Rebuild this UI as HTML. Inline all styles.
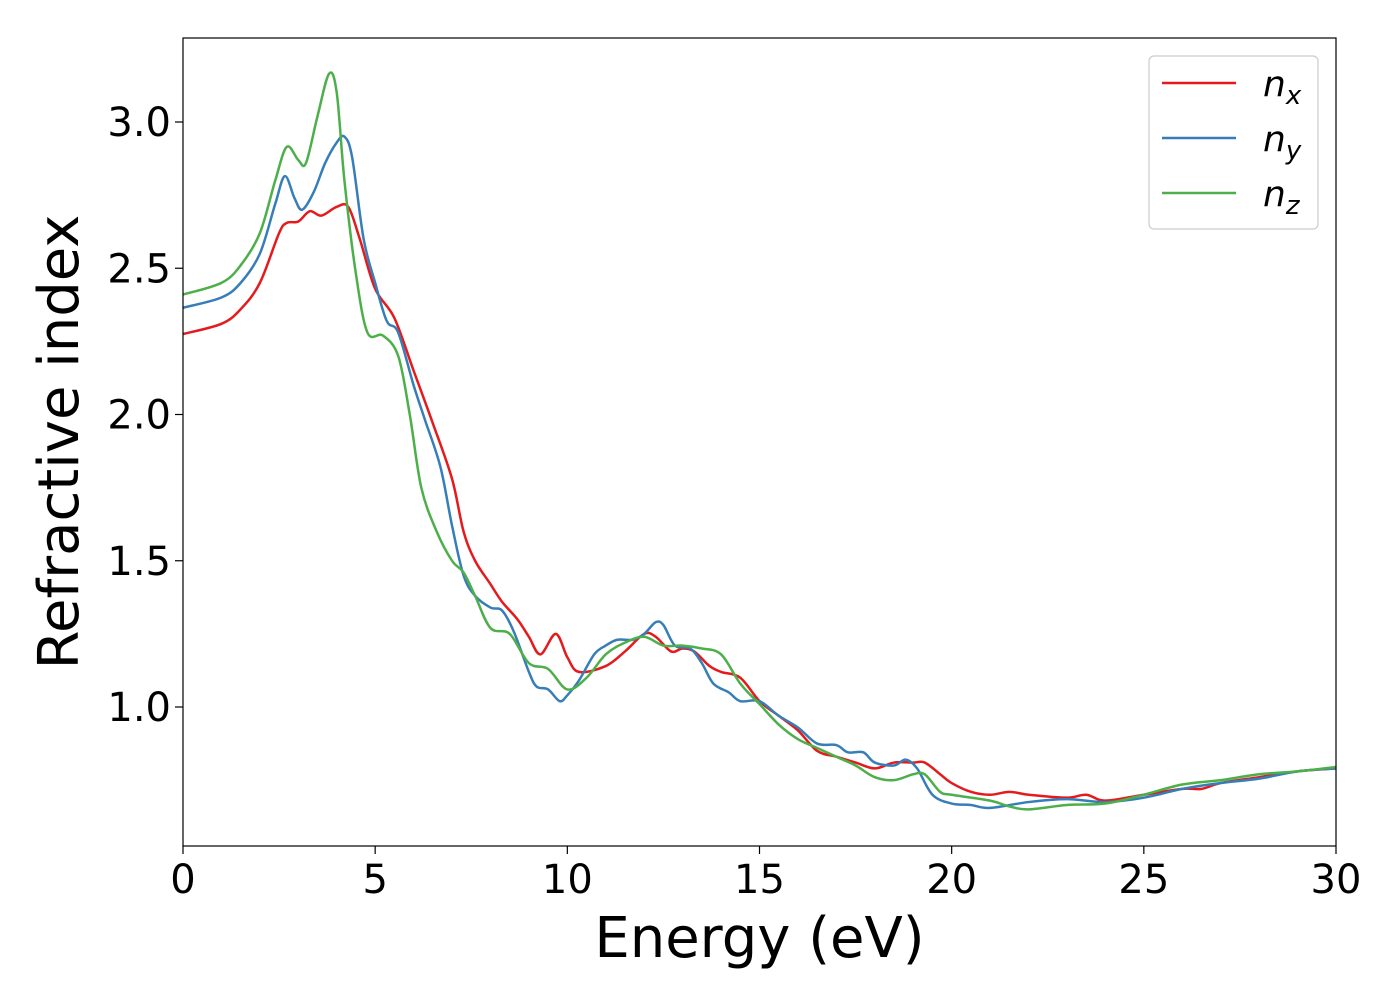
<!DOCTYPE html>
<html><head><meta charset="utf-8"><style>
body{margin:0;background:#fff;}
svg text{font-family:"DejaVu Sans","Liberation Sans",sans-serif;}
</style></head><body>
<svg id="chart" width="1400" height="1000" xmlns="http://www.w3.org/2000/svg">
<rect width="1400" height="1000" fill="#fff"/>
<g id="plot"></g>
</svg>
<script>
const xTicks=[0,5,10,15,20,25,30];
const yTicks=[1.0,1.5,2.0,2.5,3.0];
const yTickLabels=["1.0","1.5","2.0","2.5","3.0"];
const nxE=[0,1,1.5,2,2.5,2.7,3,3.3,3.6,4,4.3,4.6,5,5.5,6,6.5,7,7.3,7.6,8,8.3,8.7,9,9.3,9.7,10,10.3,11,11.5,12,12.3,12.7,13,13.3,13.7,14,14.5,15,15.5,16,16.5,17,17.5,18,18.5,19,19.3,19.7,20,20.5,21,21.5,22,23,23.5,24,25,26,26.5,27,28,29,30];
const nxV=[2.275,2.31,2.36,2.45,2.62,2.655,2.66,2.695,2.68,2.71,2.71,2.6,2.43,2.33,2.15,1.97,1.78,1.6,1.5,1.42,1.36,1.3,1.24,1.18,1.25,1.17,1.12,1.14,1.19,1.25,1.24,1.19,1.2,1.19,1.14,1.12,1.1,1.02,0.97,0.92,0.85,0.83,0.81,0.79,0.81,0.81,0.81,0.77,0.74,0.71,0.7,0.71,0.7,0.69,0.7,0.68,0.7,0.72,0.72,0.74,0.76,0.78,0.79];
const nyE=[0,1,1.5,2,2.4,2.65,2.9,3.1,3.4,3.7,4,4.2,4.4,4.7,5,5.3,5.6,6,6.3,6.7,7,7.3,7.6,8,8.3,8.6,9,9.2,9.5,9.8,10,10.3,10.7,11,11.3,11.7,12,12.3,12.5,12.8,13.2,13.5,13.8,14.2,14.5,15,15.5,16,16.5,17,17.3,17.7,18,18.5,18.8,19.1,19.5,20,20.5,21,22,23,24,25,26,27,28,29,30];
const nyV=[2.365,2.4,2.45,2.55,2.72,2.815,2.74,2.7,2.76,2.86,2.93,2.95,2.88,2.6,2.45,2.32,2.28,2.1,1.98,1.82,1.62,1.45,1.38,1.34,1.33,1.26,1.12,1.07,1.06,1.02,1.04,1.09,1.18,1.21,1.23,1.23,1.25,1.29,1.28,1.21,1.2,1.15,1.08,1.05,1.02,1.02,0.97,0.93,0.875,0.87,0.845,0.845,0.81,0.8,0.82,0.79,0.7,0.67,0.665,0.655,0.675,0.685,0.675,0.69,0.72,0.74,0.755,0.78,0.79];
const nzE=[0,1,1.5,2,2.4,2.7,3,3.2,3.5,3.8,4,4.2,4.5,4.8,5.2,5.6,5.9,6.2,6.6,7,7.3,7.6,8,8.5,9,9.5,10,10.5,11,11.5,12,12.5,13,13.5,14,14.5,15,15.5,16,16.5,17,17.5,18,18.5,19,19.3,19.7,20,21,21.5,22,23,24,25,26,27,28,29,30];
const nzV=[2.41,2.45,2.51,2.62,2.8,2.915,2.87,2.86,3.02,3.165,3.1,2.8,2.48,2.28,2.27,2.2,2.0,1.75,1.6,1.5,1.46,1.38,1.27,1.25,1.15,1.13,1.06,1.1,1.18,1.22,1.24,1.21,1.21,1.2,1.18,1.08,1.01,0.94,0.89,0.86,0.83,0.8,0.76,0.75,0.77,0.77,0.71,0.7,0.68,0.66,0.65,0.665,0.67,0.7,0.735,0.75,0.77,0.78,0.795];

const L=183,R=1336,T=38,B=846;
const xS=v=>L+(v-0)/30*(R-L);
const yS=v=>707-(v-1.0)*292.5;
const NS="http://www.w3.org/2000/svg";
const g=document.getElementById('plot');
function mk(tag,attrs,parent){const e=document.createElementNS(NS,tag);for(const k in attrs)e.setAttribute(k,attrs[k]);(parent||g).appendChild(e);return e;}
function pathD(E,V){
  const p=E.map((e,i)=>[xS(e),yS(V[i])]);
  let d="M"+p[0][0]+","+p[0][1];
  for(let i=0;i<p.length-1;i++){
    const p0=p[Math.max(0,i-1)],p1=p[i],p2=p[i+1],p3=p[Math.min(p.length-1,i+2)];
    const c1x=p1[0]+(p2[0]-p0[0])/6,c1y=p1[1]+(p2[1]-p0[1])/6;
    const c2x=p2[0]-(p3[0]-p1[0])/6,c2y=p2[1]-(p3[1]-p1[1])/6;
    d+=` C${c1x},${c1y} ${c2x},${c2y} ${p2[0]},${p2[1]}`;
  }
  return d;
}
const clip=mk('clipPath',{id:'cp'});mk('rect',{x:L,y:T,width:R-L,height:B-T},clip);
const series=[[nxE,nxV,'#e41a1c','series-nx'],[nyE,nyV,'#377eb8','series-ny'],[nzE,nzV,'#4daf4a','series-nz']];
series.forEach(s=>{
  const p=mk('path',{d:pathD(s[0],s[1]),fill:'none',stroke:s[2],'stroke-width':2.5,'clip-path':'url(#cp)'});
  
  
});
const frame=mk('rect',{x:L,y:T,width:R-L,height:B-T,fill:'none',stroke:'#000','stroke-width':1.2});


xTicks.forEach(t=>{
  mk('line',{x1:xS(t),x2:xS(t),y1:B,y2:B+8,stroke:'#000','stroke-width':1.2});
  const tx=mk('text',{x:xS(t),y:B+47,'font-size':40,'text-anchor':'middle'});tx.textContent=t;
  
  
});
yTicks.forEach((t,i)=>{
  mk('line',{x1:L-8,x2:L,y1:yS(t),y2:yS(t),stroke:'#000','stroke-width':1.2});
  const tx=mk('text',{x:L-12,y:yS(t)+14,'font-size':40,'text-anchor':'end'});tx.textContent=yTickLabels[i];
  
  
});
const xt=mk('text',{x:(L+R)/2,y:957,'font-size':56,'text-anchor':'middle'});xt.textContent='Energy (eV)';


const yt=mk('text',{x:0,y:0,'font-size':56,'text-anchor':'middle',transform:`translate(78,${(T+B)/2}) rotate(-90)`});yt.textContent='Refractive index';


const lg=mk('g',{});


mk('rect',{x:1149,y:56,width:169,height:173,rx:5,fill:'#fff',stroke:'#ccc','stroke-width':1.2},lg);
const labs=['x','y','z'];
series.forEach((s,i)=>{
  const y=83+i*55;
  mk('line',{x1:1162,x2:1236,y1:y,y2:y,stroke:s[2],'stroke-width':2.5},lg);
  const t=mk('text',{x:1263,y:y+13,'font-size':36,'font-style':'italic'},lg);
  t.innerHTML='n<tspan font-size="26" dy="8">'+labs[i]+'</tspan>';
  
  
});
</script>
</body></html>
